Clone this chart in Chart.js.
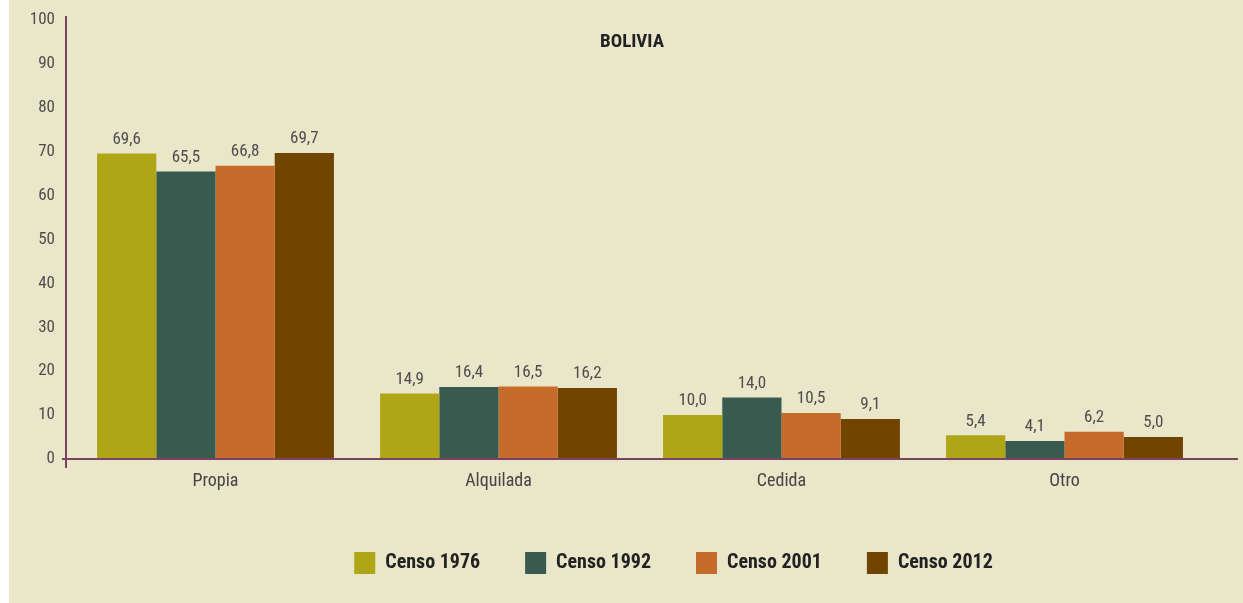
<!DOCTYPE html>
<html>
<head>
<meta charset="utf-8">
<script src="https://cdn.jsdelivr.net/npm/chart.js@4.4.1/dist/chart.umd.min.js"></script>
<style>
  html, body { margin: 0; padding: 0; background: #ffffff; }
  #wrap { position: absolute; left: 9px; top: 0; width: 1234px; height: 603px; background: #e9e6c9; }
</style>
</head>
<body>
<div id="wrap"><canvas id="myCanvas" width="1234" height="603"></canvas></div>
<script>
const categories = ['Propia', 'Alquilada', 'Cedida', 'Otro'];
const censo1976 = [69.6, 14.9, 10.0, 5.4];
const censo1992 = [65.5, 16.4, 14.0, 4.1];
const censo2001 = [66.8, 16.5, 10.5, 6.2];
const censo2012 = [69.7, 16.2, 9.1, 5.0];
const seriesNames = ['Censo 1976', 'Censo 1992', 'Censo 2001', 'Censo 2012'];
const seriesColors = ['#afa617', '#385a4f', '#c66b29', '#714400'];
const chartTitle = 'BOLIVIA';

const FONT = "'Roboto Condensed', 'Open Sans Condensed', sans-serif";
const axisColor = '#7b4361';

const fmt = (v) => v.toFixed(1).replace('.', ',');

// axis lines, title and value labels drawn on top of the bars
const extras = {
  id: 'extras',
  afterLayout(chart) {
    // the legend row sits to the right of the canvas centre
    chart.legend.left += 66;
    chart.legend.right += 66;
  },
  afterDatasetsDraw(chart) {
    const ctx = chart.ctx;
    const area = chart.chartArea;
    const y0 = chart.scales.y.getPixelForValue(0);
    ctx.save();
    ctx.strokeStyle = axisColor;
    ctx.lineWidth = 2;
    ctx.beginPath();
    ctx.moveTo(area.left - 8, area.top - 4);
    ctx.lineTo(area.left - 8, y0 + 9);
    ctx.moveTo(area.left - 12, y0);
    ctx.lineTo(area.right + 32, y0);
    ctx.stroke();

    ctx.fillStyle = '#4d4d4d';
    ctx.font = '17px ' + FONT;
    ctx.textAlign = 'center';
    ctx.textBaseline = 'middle';
    chart.data.datasets.forEach((ds, i) => {
      chart.getDatasetMeta(i).data.forEach((bar, j) => {
        ctx.fillText(fmt(ds.data[j]), bar.x, bar.y - 14);
      });
    });

    ctx.fillStyle = '#222222';
    ctx.font = 'bold 19px ' + FONT;
    ctx.fillText(chartTitle, (area.left + area.right) / 2 - 8, area.top + 22);
    ctx.restore();
  }
};

const datasets = [censo1976, censo1992, censo2001, censo2012].map((vals, i) => ({
  label: seriesNames[i],
  data: vals,
  backgroundColor: seriesColors[i],
  borderWidth: 0,
  barPercentage: 1,
  categoryPercentage: 0.837,
}));

new Chart(document.getElementById('myCanvas'), {
  type: 'bar',
  data: { labels: categories, datasets: datasets },
  options: {
    responsive: false,
    animation: false,
    layout: { padding: { top: 20, right: 37, bottom: 19, left: 0 } },
    plugins: {
      title: { display: false },
      tooltip: { enabled: false },
      legend: {
        position: 'bottom',
        labels: {
          boxWidth: 21,
          boxHeight: 22,
          padding: 45,
          color: '#222222',
          font: { family: FONT, size: 20, weight: 'bold' },
        },
      },
    },
    scales: {
      x: {
        grid: { display: false, drawTicks: false },
        border: { display: false },
        ticks: { color: '#444444', padding: 12, font: { family: FONT, size: 18 } },
        afterFit(scale) { scale.height = 48; },
      },
      y: {
        min: 0,
        max: 100,
        grid: { display: false, drawTicks: false },
        border: { display: false },
        ticks: { stepSize: 10, color: '#4d4d4d', padding: 19, font: { family: FONT, size: 17 } },
        afterFit(scale) {
          scale.width = 65;
          // keep the tick padding from pushing the plot down
          scale.paddingTop = 0;
          scale.paddingBottom = 0;
        },
      },
    },
  },
  plugins: [extras],
});
</script>
</body>
</html>
